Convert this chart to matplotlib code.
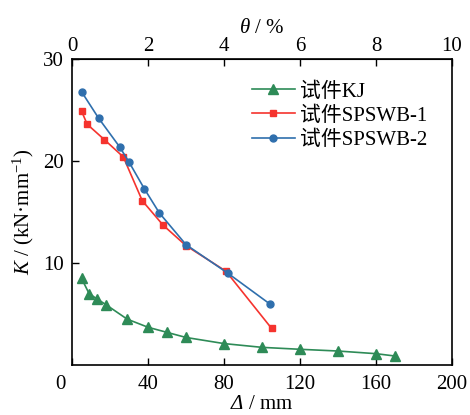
import matplotlib
matplotlib.use('Agg')
from matplotlib import pyplot as plt
from matplotlib.transforms import ScaledTranslation

# displacement (mm) and stiffness (kN/mm)
d_kj = [5, 9, 13, 18, 29, 40, 50, 60, 80, 100, 120, 140, 160, 170]
k_kj = [8.5, 7.0, 6.5, 5.9, 4.5, 3.7, 3.2, 2.7, 2.1, 1.73, 1.54, 1.37, 1.11, 0.88]

d_sp1 = [5, 8, 17, 27, 37, 48, 60, 81, 105]
k_sp1 = [24.9, 23.6, 22.1, 20.4, 16.1, 13.7, 11.7, 9.2, 3.6]

d_sp2 = [5, 14, 25, 30, 38, 46, 60, 82, 104]
k_sp2 = [26.8, 24.2, 21.4, 19.9, 17.3, 14.9, 11.8, 9.0, 6.0]

labels = ['试件KJ', '试件SPSWB-1', '试件SPSWB-2']

plt.rcParams['font.family'] = ['Liberation Serif', 'Noto Sans CJK SC']
plt.rcParams['mathtext.fontset'] = 'custom'
plt.rcParams['mathtext.rm'] = 'Liberation Serif'
plt.rcParams['mathtext.it'] = 'Liberation Serif:italic'
plt.rcParams['mathtext.cal'] = 'Liberation Serif:italic'  # used for italic capital Delta

fig = plt.figure(figsize=(4.7, 4.15), dpi=100)
ax = fig.add_axes([72/470, 50/415, 380/470, 306/415])

ax.plot(d_kj, k_kj, color='#2e8b57', marker='^', ms=6.5, lw=1.2, label=labels[0])
ax.plot(d_sp1, k_sp1, color='#f5332e', marker='s', ms=4.5, lw=1.2, label=labels[1])
ax.plot(d_sp2, k_sp2, color='#2f6fad', marker='o', ms=5, lw=1.2, label=labels[2])

ax.set_xlim(0, 200)
ax.set_ylim(0, 30)
ax.set_xticks([0, 40, 80, 120, 160, 200])
ax.set_yticks([10, 20, 30])
ax.tick_params(direction='in', labelsize=15, length=5, width=1)
ax.tick_params(axis='x', pad=7)
ax.tick_params(axis='y', pad=6)
for s in ax.spines.values():
    s.set_linewidth(1.2)

# the "0" at the origin sits a little left of the corner
lbl0 = ax.xaxis.get_major_ticks()[0].label1
lbl0.set_transform(lbl0.get_transform() + ScaledTranslation(-12/100, 0, fig.dpi_scale_trans))

ax.set_xlabel(r'$\mathcal{\Delta}$ / mm', fontsize=15, labelpad=1)
ax.set_ylabel(r'$K$ / (kN·mm$^{-1}$)', fontsize=15, labelpad=5)

top = ax.secondary_xaxis('top', functions=(lambda x: x / 20, lambda t: t * 20))
top.set_xticks([0, 2, 4, 6, 8, 10])
top.tick_params(direction='in', labelsize=15, length=5, width=1, pad=2)
top.set_xlabel(r'$\theta$ / %', fontsize=15, labelpad=3)

ax.legend(loc='upper left', bbox_to_anchor=(0.474, 0.925), frameon=False,
          fontsize=15, handlelength=2.05, handletextpad=0.25, labelspacing=0.22,
          borderpad=0, borderaxespad=0)

fig.savefig('out.png', dpi=100)
